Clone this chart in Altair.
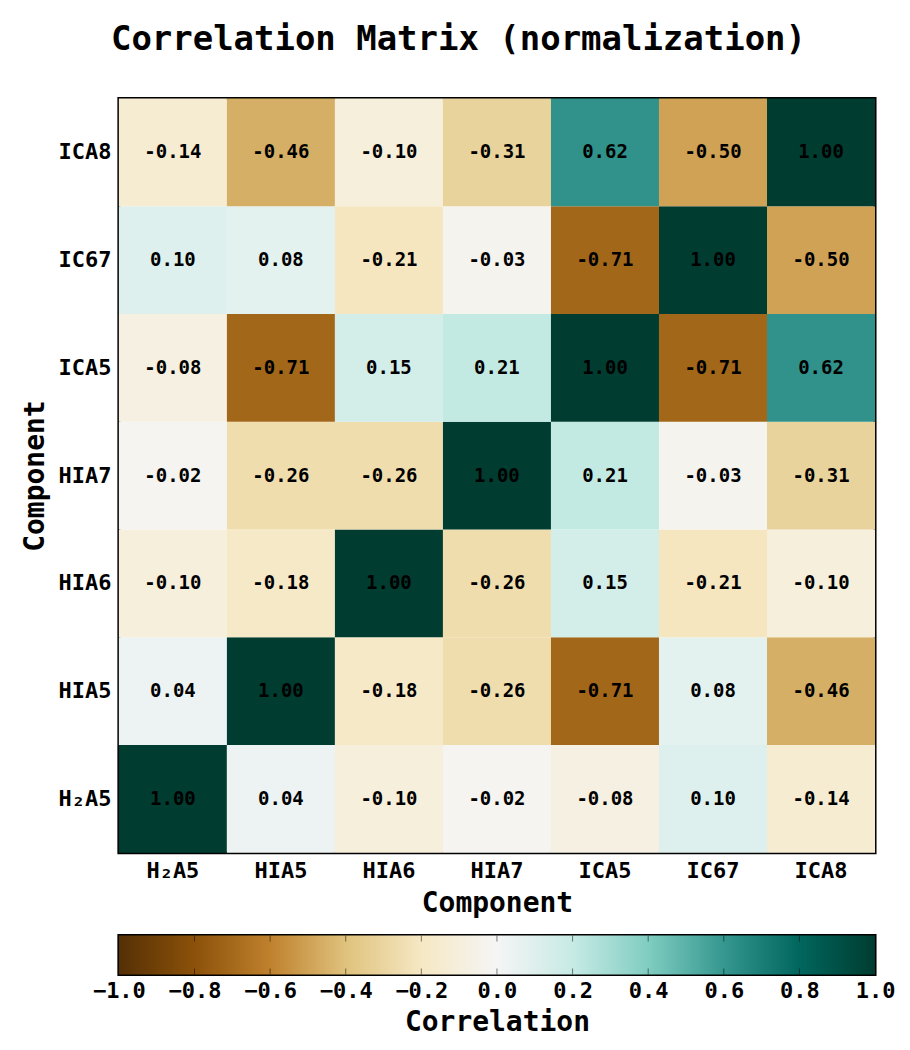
import altair as alt
import pandas as pd

labels = ["H\u2082A5", "HIA5", "HIA6", "HIA7", "ICA5", "IC67", "ICA8"]

row_H2A5 = [1.00, 0.04, -0.10, -0.02, -0.08, 0.10, -0.14]
row_HIA5 = [0.04, 1.00, -0.18, -0.26, -0.71, 0.08, -0.46]
row_HIA6 = [-0.10, -0.18, 1.00, -0.26, 0.15, -0.21, -0.10]
row_HIA7 = [-0.02, -0.26, -0.26, 1.00, 0.21, -0.03, -0.31]
row_ICA5 = [-0.08, -0.71, 0.15, 0.21, 1.00, -0.71, 0.62]
row_IC67 = [0.10, 0.08, -0.21, -0.03, -0.71, 1.00, -0.50]
row_ICA8 = [-0.14, -0.46, -0.10, -0.31, 0.62, -0.50, 1.00]

matrix = [row_H2A5, row_HIA5, row_HIA6, row_HIA7, row_ICA5, row_IC67, row_ICA8]

cbar_ticks = [-1.0, -0.8, -0.6, -0.4, -0.2, 0.0, 0.2, 0.4, 0.6, 0.8, 1.0]
brbg = ["#543005", "#8c510a", "#bf812d", "#dfc27d", "#f6e8c3", "#f5f5f5",
        "#c7eae5", "#80cdc1", "#35978f", "#01665e", "#003c30"]

records = []
for i, rname in enumerate(labels):
    for j, cname in enumerate(labels):
        v = matrix[i][j]
        records.append({"row": rname, "col": cname, "value": v, "label": f"{v:.2f}"})
df = pd.DataFrame(records)

FONT = "DejaVu Sans Mono"
W, H = 757, 755

color_scale = alt.Scale(domain=cbar_ticks, range=brbg, interpolate="rgb")

base = alt.Chart(df)

heat = base.mark_rect().encode(
    x=alt.X("col:N", sort=labels, scale=alt.Scale(paddingInner=0, paddingOuter=0),
            axis=alt.Axis(title="Component", labelAngle=0)),
    y=alt.Y("row:N", sort=list(reversed(labels)), scale=alt.Scale(paddingInner=0, paddingOuter=0),
            axis=alt.Axis(title="Component")),
    color=alt.Color("value:Q", scale=color_scale, legend=None),
)

text = base.mark_text(font=FONT, fontSize=19, fontWeight="bold", color="black").encode(
    x=alt.X("col:N", sort=labels),
    y=alt.Y("row:N", sort=list(reversed(labels))),
    text="label:N",
)

matrix_chart = (heat + text).properties(width=W, height=H)

# colorbar
cbar_df = pd.DataFrame({"start": [cbar_ticks[0]], "end": [cbar_ticks[-1]]})
stops = [alt.GradientStop(color=c, offset=(t - cbar_ticks[0]) / (cbar_ticks[-1] - cbar_ticks[0]))
         for t, c in zip(cbar_ticks, brbg)]
grad = alt.Gradient(gradient="linear", stops=stops, x1=0, x2=1, y1=0, y2=0)

cbar_x_scale = alt.Scale(domain=[cbar_ticks[0], cbar_ticks[-1]], nice=False, zero=False)

cbar_rect = alt.Chart(cbar_df).mark_rect(color=grad).encode(
    x=alt.X("start:Q", scale=cbar_x_scale,
            axis=alt.Axis(values=cbar_ticks, format=".1f", title="Correlation",
                          labelFlush=False, labelOverlap=False, labelPadding=6,
                          titlePadding=7)),
    x2="end:Q",
)

tick_df = pd.DataFrame({"t": cbar_ticks[1:-1]})
cbar_ticks_top = alt.Chart(tick_df).mark_rule(color="black", strokeWidth=1, opacity=0.5).encode(
    x=alt.X("t:Q", scale=cbar_x_scale), y=alt.value(0), y2=alt.value(6))
cbar_ticks_bot = alt.Chart(tick_df).mark_rule(color="black", strokeWidth=1, opacity=0.5).encode(
    x=alt.X("t:Q", scale=cbar_x_scale), y=alt.value(33), y2=alt.value(39))

cbar = (cbar_rect + cbar_ticks_top + cbar_ticks_bot).properties(width=W, height=39)

chart = alt.vconcat(matrix_chart, cbar, spacing=14).properties(
    title=alt.TitleParams("Correlation Matrix (normalization)", font=FONT, fontSize=34,
                          fontWeight="bold", color="black", anchor="middle", offset=40),
    padding={"left": 12, "top": 14, "right": 5, "bottom": 5},
).configure_view(
    stroke="black", strokeWidth=3
).configure_axis(
    labelFont=FONT, labelFontSize=22, labelFontWeight="bold", labelColor="black",
    titleFont=FONT, titleFontSize=28, titleFontWeight="bold", titleColor="black",
    domain=False, ticks=False, grid=False, labelPadding=8, titlePadding=8,
)

chart.save("out.html", embed_options={"renderer": "svg", "actions": False})
